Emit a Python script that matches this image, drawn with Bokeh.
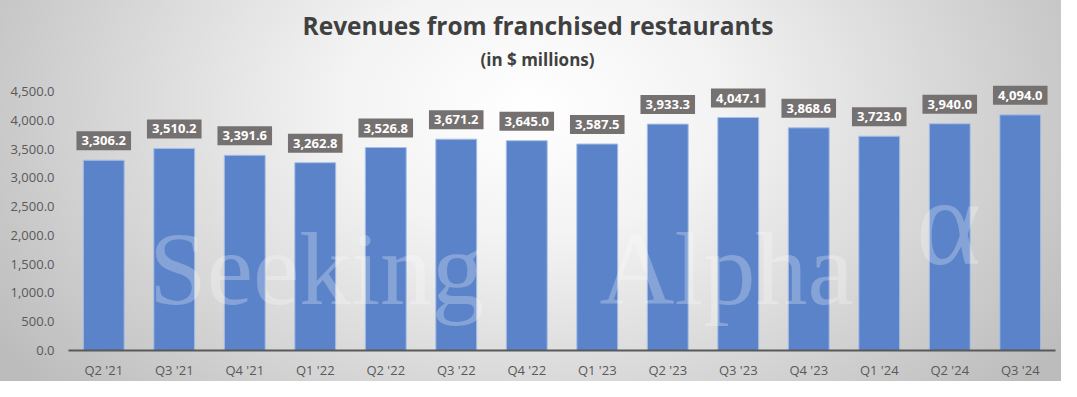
from bokeh.plotting import figure
from bokeh.models import ColumnDataSource, Label, Title, FactorRange, Range1d, NumeralTickFormatter
from bokeh.core.properties import value
from bokeh.embed import file_html
from bokeh.resources import INLINE

quarters = ["Q2 '21", "Q3 '21", "Q4 '21", "Q1 '22", "Q2 '22", "Q3 '22", "Q4 '22",
            "Q1 '23", "Q2 '23", "Q3 '23", "Q4 '23", "Q1 '24", "Q2 '24", "Q3 '24"]
revenues = [3306.2, 3510.2, 3391.6, 3262.8, 3526.8, 3671.2, 3645.0,
            3587.5, 3933.3, 4047.1, 3868.6, 3723.0, 3940.0, 4094.0]
labels = ["{:,.1f}".format(v) for v in revenues]
y_ticks = [0, 500, 1000, 1500, 2000, 2500, 3000, 3500, 4000, 4500]

title_text = "Revenues from franchised restaurants"
subtitle_text = "(in $ millions)"

FONT = "Open Sans"
src = ColumnDataSource(dict(q=quarters, v=revenues, lab=labels))

W, H = 1061, 381
p = figure(width=W, height=H, output_backend="svg", toolbar_location=None,
           x_range=FactorRange(*quarters, range_padding=0), y_range=Range1d(0, 4830),
           min_border_left=68, min_border_right=6, min_border_top=0, min_border_bottom=29)
p.styles = {"background": "radial-gradient(ellipse 60% 115% at 50% 28%, #ffffff 0%, #f3f3f3 30%, #bcbcbc 100%)"}
p.background_fill_alpha = 0
p.border_fill_alpha = 0
p.outline_line_color = None
p.grid.visible = False

p.vbar(x="q", top="v", width=0.58, source=src, fill_color="#5b83c9",
       line_color="#a8bfe6", line_width=1)

# axes
p.yaxis.ticker = y_ticks
p.yaxis.formatter = NumeralTickFormatter(format="0,0.0")
p.yaxis.axis_line_color = None
p.yaxis.major_tick_line_color = None
p.yaxis.minor_tick_line_color = None
p.yaxis.major_tick_out = 0
p.yaxis.minor_tick_out = 0
p.yaxis.major_label_standoff = 14
p.yaxis.major_label_text_font = FONT
p.yaxis.major_label_text_font_size = "13px"
p.yaxis.major_label_text_color = "#595959"

p.xaxis.axis_line_color = "#595959"
p.xaxis.axis_line_width = 2
p.xaxis.major_tick_line_color = None
p.xaxis.minor_tick_line_color = None
p.xaxis.major_tick_out = 0
p.xaxis.minor_tick_out = 0
p.xaxis.major_label_standoff = 10
p.xaxis.major_label_text_font = FONT
p.xaxis.major_label_text_font_size = "13px"
p.xaxis.major_label_text_color = "#595959"

# watermark
for txt, xs, ys, fs in [("Seeking", 248, 82, "104px"), ("Alpha", 658, 82, "104px"), ("\u03b1", 880, 128, "124px")]:
    p.add_layout(Label(x=xs, y=ys, x_units="screen", y_units="screen", text=txt,
                       text_font="Liberation Serif", text_font_size=fs, text_color="white",
                       text_alpha=0.26, text_align="center", text_baseline="alphabetic"))

# data labels
p.text(x="q", y="v", text="lab", source=src, text_align="center", text_baseline="bottom",
       y_offset=-10, text_font=value(FONT), text_font_style="bold", text_font_size="13px",
       text_color="white", background_fill_color="#767171", padding=dict(x=5, y=5))

# titles (first added sits nearest the plot)
p.add_layout(Title(text=subtitle_text, align="left", offset=412, standoff=0, vertical_align="top",
                   text_font=FONT, text_font_style="bold", text_font_size="17px",
                   text_color="#404040"), "above")
p.add_layout(Title(text=title_text, align="left", offset=234, standoff=12, vertical_align="bottom",
                   text_font=FONT, text_font_style="bold", text_font_size="24.5px",
                   text_color="#404040"), "above")

open("out.html", "w").write(file_html(p, INLINE))
